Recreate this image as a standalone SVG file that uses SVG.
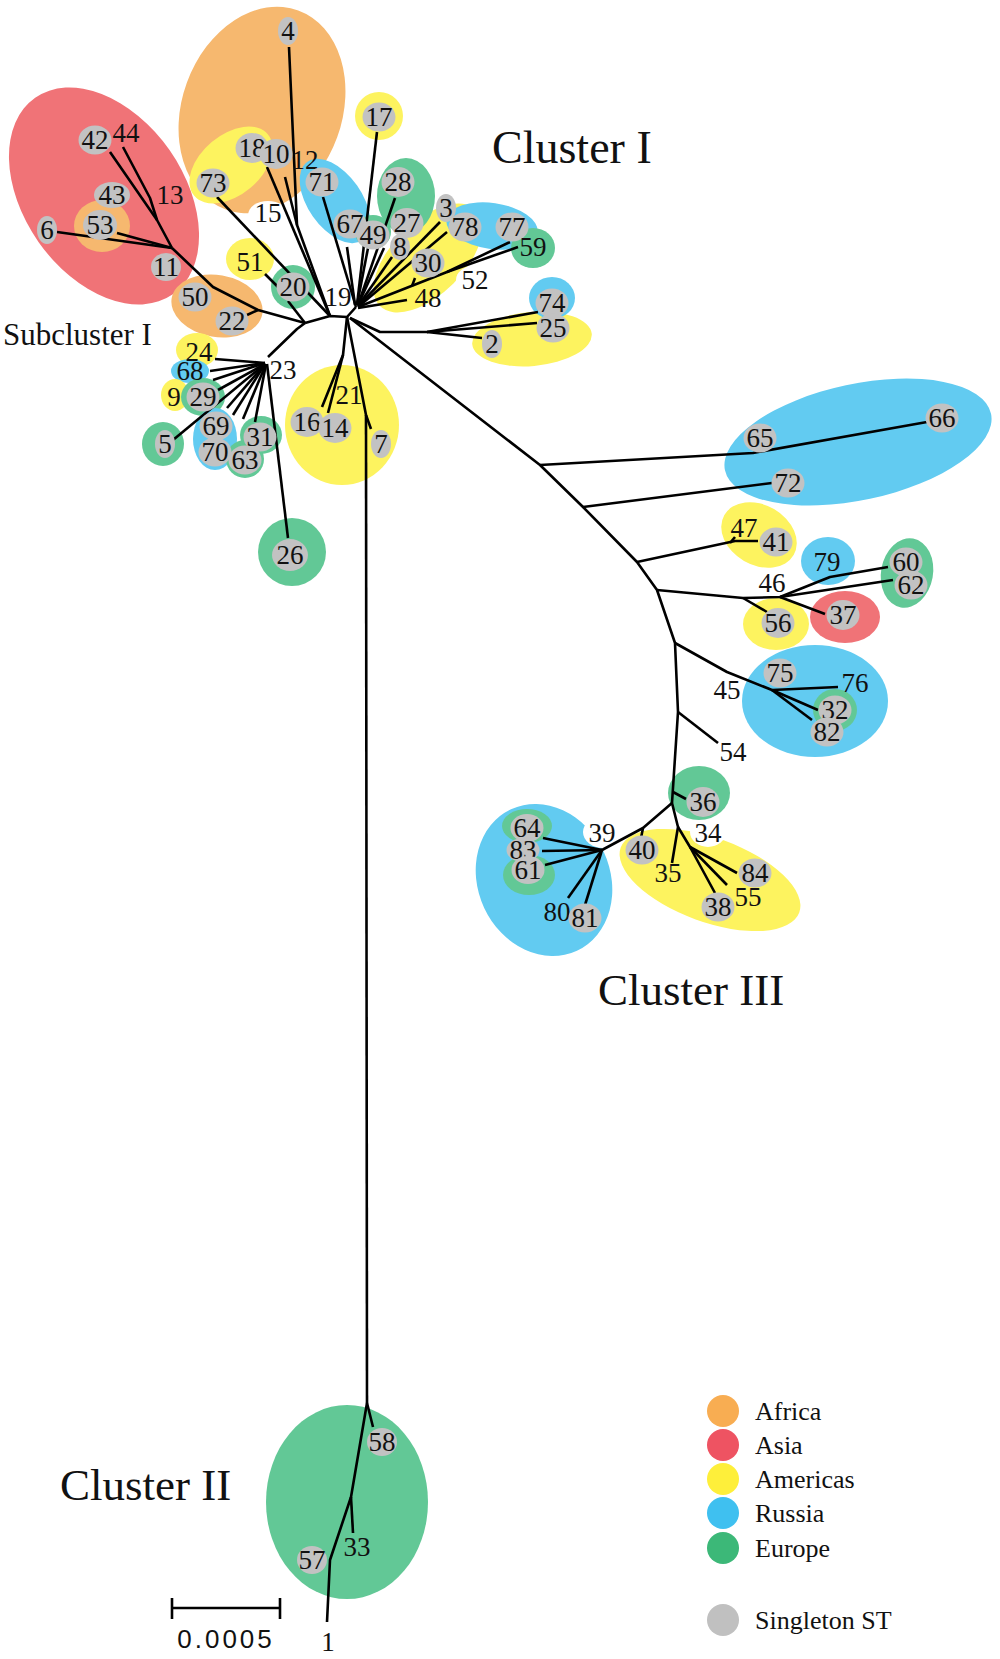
<svg xmlns="http://www.w3.org/2000/svg" width="1000" height="1659" viewBox="0 0 1000 1659">
<style>
.or{fill:#f6b86f}.rd{fill:#f07377}.ye{fill:#fdf35f}.bl{fill:#62cbf1}.gr{fill:#62c896}.wh{fill:#fff}
.g{fill:#c2c2c2}
text{font-family:"Liberation Serif","Times New Roman",serif;fill:#111}
.n{font-size:27px;text-anchor:middle}
.big{font-size:46px}
.lg{font-size:26px}
.e{fill:none;stroke:#000;stroke-width:2.6;stroke-linejoin:round;stroke-linecap:butt}
</style>
<rect width="1000" height="1659" fill="#fff"/>
<g id="regions">
<ellipse class="rd" cx="104" cy="196" rx="120" ry="80" transform="rotate(55 104 196)"/>
<ellipse class="or" cx="102" cy="226" rx="28" ry="26"/>
<ellipse class="or" cx="262" cy="110" rx="80" ry="106" transform="rotate(20 262 110)"/>
<ellipse class="wh" cx="268" cy="215" rx="20" ry="14"/>
<ellipse class="ye" cx="231" cy="165" rx="48" ry="30" transform="rotate(-40 231 165)"/>
<ellipse class="or" cx="217" cy="306" rx="46" ry="31" transform="rotate(10 217 306)"/>
<ellipse class="ye" cx="250" cy="259" rx="24" ry="21"/>
<ellipse class="gr" cx="293" cy="287" rx="22" ry="22"/>
<ellipse class="ye" cx="379" cy="116" rx="24" ry="24"/>
<ellipse class="ye" cx="428" cy="258" rx="68" ry="36" transform="rotate(-45 428 258)"/>
<ellipse class="wh" cx="476" cy="280" rx="20" ry="15"/>
<ellipse class="gr" cx="406" cy="196" rx="29" ry="38"/>
<ellipse class="bl" cx="335" cy="201" rx="48" ry="27" transform="rotate(55 335 201)"/>
<ellipse class="gr" cx="373" cy="232" rx="18" ry="17"/>
<ellipse class="bl" cx="492" cy="226" rx="46" ry="23" transform="rotate(8 492 226)"/>
<ellipse class="gr" cx="533" cy="248" rx="22" ry="20"/>
<ellipse class="ye" cx="532" cy="339" rx="60" ry="27" transform="rotate(-5 532 339)"/>
<ellipse class="bl" cx="552" cy="298" rx="23" ry="21"/>
<ellipse class="ye" cx="197" cy="350" rx="21" ry="17"/>
<ellipse class="bl" cx="190" cy="371" rx="19" ry="12"/>
<ellipse class="ye" cx="175" cy="395" rx="14" ry="16"/>
<ellipse class="gr" cx="203" cy="397" rx="22" ry="19"/>
<ellipse class="gr" cx="163" cy="444" rx="21" ry="22"/>
<ellipse class="bl" cx="215" cy="439" rx="22" ry="31"/>
<ellipse class="gr" cx="245" cy="459" rx="19" ry="19"/>
<ellipse class="gr" cx="261" cy="435" rx="21" ry="19"/>
<ellipse class="gr" cx="292" cy="552" rx="34" ry="34"/>
<ellipse class="ye" cx="342" cy="425" rx="57" ry="60"/>
<ellipse class="bl" cx="858" cy="442" rx="136" ry="58" transform="rotate(-12 858 442)"/>
<ellipse class="ye" cx="759" cy="535" rx="40" ry="30" transform="rotate(30 759 535)"/>
<ellipse class="bl" cx="828" cy="561" rx="27" ry="24"/>
<ellipse class="gr" cx="907" cy="573" rx="26" ry="35" transform="rotate(10 907 573)"/>
<ellipse class="rd" cx="845" cy="617" rx="35" ry="26"/>
<ellipse class="ye" cx="776" cy="624" rx="33" ry="26"/>
<ellipse class="bl" cx="815" cy="701" rx="73" ry="56"/>
<ellipse class="gr" cx="835" cy="710" rx="22" ry="21"/>
<ellipse class="ye" cx="710" cy="880" rx="95" ry="42" transform="rotate(20 710 880)"/>
<ellipse class="wh" cx="708" cy="832" rx="18" ry="15"/>
<ellipse class="gr" cx="699" cy="793" rx="31" ry="27"/>
<ellipse class="bl" cx="544" cy="880" rx="66" ry="78" transform="rotate(-25 544 880)"/>
<ellipse class="wh" cx="603" cy="832" rx="20" ry="16"/>
<ellipse class="gr" cx="527" cy="826" rx="25" ry="17"/>
<ellipse class="gr" cx="529" cy="875" rx="26" ry="20"/>
<ellipse class="gr" cx="347" cy="1502" rx="81" ry="97"/>
</g>
<g id="connectors" class="e">
<path d="M110,152 L157,220 L172,248"/>
<path d="M123,147 L150,198 L157,220"/>
<path d="M57,232 L172,248"/>
<path d="M117,233 L172,248"/>
<path d="M172,248 L213,287 L258,310 L305,323"/>
<path d="M247,315 L258,310"/>
<path d="M289,47 L297,225 L330,316"/>
<path d="M285,177 L297,225"/>
<path d="M267,167 L330,316"/>
<path d="M217,197 L330,316"/>
<path d="M265,274 L278,287"/>
<path d="M288,301 L305,323"/>
<path d="M305,323 L330,316 L347,317 L356,307"/>
<path d="M323,197 L356,307"/>
<path d="M347,247 L355,305"/>
<path d="M377,132 L357,305"/>
<path d="M368,248 L357,305"/>
<path d="M395,198 L358,305"/>
<path d="M384,248 L358,305"/>
<path d="M392,257 L358,306"/>
<path d="M440,222 L358,306"/>
<path d="M447,232 L358,307"/>
<path d="M358,307 L447,272 L510,242"/>
<path d="M447,272 L518,247"/>
<path d="M412,286 L415,278"/>
<path d="M407,300 L358,308"/>
<path d="M347,317 L343,355 L322,407"/>
<path d="M343,355 L328,413"/>
<path d="M347,317 L366,415 L371,429"/>
<path d="M366,415 L367,1403"/>
<path d="M350,318 L380,332 L427,332 L538,312"/>
<path d="M427,332 L537,323"/>
<path d="M427,332 L482,338"/>
<path d="M350,318 L540,465 L583,507 L637,562 L657,590 L675,643 L678,712 L672,803"/>
<path d="M305,323 L297,329 L268,357"/>
<path d="M265,363 L215,359"/>
<path d="M265,363 L210,371"/>
<path d="M265,363 L213,380"/>
<path d="M265,364 L218,390"/>
<path d="M265,364 L173,440"/>
<path d="M265,364 L227,408"/>
<path d="M265,364 L233,415"/>
<path d="M266,364 L243,419"/>
<path d="M266,364 L255,422"/>
<path d="M267,364 L288,538"/>
<path d="M540,465 L753,453 L927,422"/>
<path d="M583,507 L772,483"/>
<path d="M637,562 L735,541 L758,541"/>
<path d="M730,543 L735,537"/>
<path d="M657,590 L743,598 L780,597 L830,577 L888,567"/>
<path d="M780,597 L893,580"/>
<path d="M780,597 L825,614"/>
<path d="M743,598 L767,612"/>
<path d="M675,643 L727,672 L772,690 L838,687"/>
<path d="M772,690 L818,710"/>
<path d="M772,690 L812,720"/>
<path d="M678,712 L718,743"/>
<path d="M673,792 L686,799"/>
<path d="M672,803 L643,828 L602,850"/>
<path d="M643,828 L641,838"/>
<path d="M672,803 L678,827 L672,863"/>
<path d="M678,827 L690,847 L715,893"/>
<path d="M690,847 L727,885"/>
<path d="M690,847 L737,873"/>
<path d="M602,850 L543,838"/>
<path d="M602,850 L542,851"/>
<path d="M602,850 L545,865"/>
<path d="M602,850 L568,898"/>
<path d="M602,850 L585,905"/>
<path d="M367,1403 L373,1427"/>
<path d="M367,1403 L351,1497 L330,1560 L327,1622"/>
<path d="M351,1497 L353,1533"/>
</g>
<g id="nodes">
<g id="n4"><ellipse class="g" cx="288" cy="31" rx="10" ry="14"/><text class="n" x="288" y="40">4</text></g>
<g id="n42"><ellipse class="g" cx="95" cy="140" rx="16.5" ry="14.5"/><text class="n" x="95" y="149">42</text></g>
<g id="n44"><text class="n" x="126" y="142">44</text></g>
<g id="n43"><ellipse class="g" cx="112" cy="195" rx="18" ry="13"/><text class="n" x="112" y="204">43</text></g>
<g id="n53"><ellipse class="g" cx="100" cy="225" rx="17" ry="15"/><text class="n" x="100" y="234">53</text></g>
<g id="n6"><ellipse class="g" cx="47" cy="230" rx="10" ry="14"/><text class="n" x="47" y="239">6</text></g>
<g id="n13"><text class="n" x="170" y="204">13</text></g>
<g id="n11"><ellipse class="g" cx="166" cy="267" rx="15" ry="14"/><text class="n" x="166" y="276">11</text></g>
<g id="n50"><ellipse class="g" cx="195" cy="297" rx="16.5" ry="14.5"/><text class="n" x="195" y="306">50</text></g>
<g id="n22"><ellipse class="g" cx="232" cy="321" rx="16.5" ry="14.5"/><text class="n" x="232" y="330">22</text></g>
<g id="n73"><ellipse class="g" cx="213" cy="183" rx="16.5" ry="14.5"/><text class="n" x="213" y="192">73</text></g>
<g id="n18"><ellipse class="g" cx="252" cy="148" rx="16.5" ry="15"/><text class="n" x="252" y="157">18</text></g>
<g id="n10"><ellipse class="g" cx="276" cy="154" rx="16.5" ry="15"/><text class="n" x="276" y="163">10</text></g>
<g id="n12"><text class="n" x="305" y="169">12</text></g>
<g id="n15"><text class="n" x="268" y="222">15</text></g>
<g id="n51"><text class="n" x="250" y="271">51</text></g>
<g id="n20"><ellipse class="g" cx="293" cy="287" rx="16.5" ry="14.5"/><text class="n" x="293" y="296">20</text></g>
<g id="n19"><text class="n" x="338" y="306">19</text></g>
<g id="n71"><ellipse class="g" cx="322" cy="182" rx="16.5" ry="14.5"/><text class="n" x="322" y="191">71</text></g>
<g id="n67"><ellipse class="g" cx="350" cy="224" rx="16.5" ry="14.5"/><text class="n" x="350" y="233">67</text></g>
<g id="n49"><ellipse class="g" cx="373" cy="235" rx="16.5" ry="14.5"/><text class="n" x="373" y="244">49</text></g>
<g id="n17"><ellipse class="g" cx="379" cy="117" rx="16.5" ry="14.5"/><text class="n" x="379" y="126">17</text></g>
<g id="n28"><ellipse class="g" cx="398" cy="182" rx="16.5" ry="15"/><text class="n" x="398" y="191">28</text></g>
<g id="n27"><ellipse class="g" cx="407" cy="223" rx="16.5" ry="15"/><text class="n" x="407" y="232">27</text></g>
<g id="n8"><ellipse class="g" cx="400" cy="247" rx="10" ry="13"/><text class="n" x="400" y="256">8</text></g>
<g id="n3"><ellipse class="g" cx="446" cy="208" rx="10" ry="14"/><text class="n" x="446" y="217">3</text></g>
<g id="n78"><ellipse class="g" cx="465" cy="227" rx="16.5" ry="14.5"/><text class="n" x="465" y="236">78</text></g>
<g id="n77"><ellipse class="g" cx="512" cy="227" rx="16.5" ry="14.5"/><text class="n" x="512" y="236">77</text></g>
<g id="n59"><text class="n" x="533" y="256">59</text></g>
<g id="n30"><ellipse class="g" cx="428" cy="263" rx="16.5" ry="14.5"/><text class="n" x="428" y="272">30</text></g>
<g id="n52"><text class="n" x="475" y="289">52</text></g>
<g id="n48"><text class="n" x="428" y="307">48</text></g>
<g id="n74"><ellipse class="g" cx="552" cy="303" rx="16.5" ry="14.5"/><text class="n" x="552" y="312">74</text></g>
<g id="n25"><ellipse class="g" cx="553" cy="328" rx="16.5" ry="14.5"/><text class="n" x="553" y="337">25</text></g>
<g id="n2"><ellipse class="g" cx="492" cy="344" rx="10" ry="14"/><text class="n" x="492" y="353">2</text></g>
<g id="n24"><text class="n" x="199" y="361">24</text></g>
<g id="n68"><text class="n" x="190" y="380">68</text></g>
<g id="n9"><text class="n" x="174" y="406">9</text></g>
<g id="n29"><ellipse class="g" cx="203" cy="397" rx="16.5" ry="14.5"/><text class="n" x="203" y="406">29</text></g>
<g id="n23"><text class="n" x="283" y="379">23</text></g>
<g id="n5"><ellipse class="g" cx="165" cy="444" rx="10" ry="14"/><text class="n" x="165" y="453">5</text></g>
<g id="n69"><ellipse class="g" cx="216" cy="426" rx="16.5" ry="14.5"/><text class="n" x="216" y="435">69</text></g>
<g id="n70"><ellipse class="g" cx="215" cy="452" rx="16.5" ry="14.5"/><text class="n" x="215" y="461">70</text></g>
<g id="n63"><ellipse class="g" cx="245" cy="460" rx="16.5" ry="14.5"/><text class="n" x="245" y="469">63</text></g>
<g id="n31"><ellipse class="g" cx="260" cy="437" rx="16.5" ry="14.5"/><text class="n" x="260" y="446">31</text></g>
<g id="n26"><ellipse class="g" cx="290" cy="555" rx="18" ry="16"/><text class="n" x="290" y="564">26</text></g>
<g id="n21"><text class="n" x="349" y="404">21</text></g>
<g id="n16"><ellipse class="g" cx="307" cy="422" rx="16.5" ry="15"/><text class="n" x="307" y="431">16</text></g>
<g id="n14"><ellipse class="g" cx="335" cy="428" rx="16.5" ry="15"/><text class="n" x="335" y="437">14</text></g>
<g id="n7"><ellipse class="g" cx="381" cy="444" rx="10" ry="14"/><text class="n" x="381" y="453">7</text></g>
<g id="n65"><ellipse class="g" cx="760" cy="438" rx="16.5" ry="14.5"/><text class="n" x="760" y="447">65</text></g>
<g id="n66"><ellipse class="g" cx="942" cy="418" rx="16.5" ry="14.5"/><text class="n" x="942" y="427">66</text></g>
<g id="n72"><ellipse class="g" cx="788" cy="483" rx="16.5" ry="14.5"/><text class="n" x="788" y="492">72</text></g>
<g id="n47"><text class="n" x="744" y="537">47</text></g>
<g id="n41"><ellipse class="g" cx="776" cy="542" rx="16.5" ry="14.5"/><text class="n" x="776" y="551">41</text></g>
<g id="n79"><text class="n" x="827" y="571">79</text></g>
<g id="n46"><text class="n" x="772" y="592">46</text></g>
<g id="n60"><ellipse class="g" cx="906" cy="562" rx="16.5" ry="14.5"/><text class="n" x="906" y="571">60</text></g>
<g id="n62"><ellipse class="g" cx="911" cy="585" rx="16.5" ry="14.5"/><text class="n" x="911" y="594">62</text></g>
<g id="n37"><ellipse class="g" cx="843" cy="615" rx="16.5" ry="15"/><text class="n" x="843" y="624">37</text></g>
<g id="n56"><ellipse class="g" cx="778" cy="623" rx="16.5" ry="15"/><text class="n" x="778" y="632">56</text></g>
<g id="n75"><ellipse class="g" cx="780" cy="673" rx="16.5" ry="14.5"/><text class="n" x="780" y="682">75</text></g>
<g id="n76"><text class="n" x="855" y="692">76</text></g>
<g id="n45"><text class="n" x="727" y="699">45</text></g>
<g id="n32"><ellipse class="g" cx="835" cy="710" rx="16.5" ry="14.5"/><text class="n" x="835" y="719">32</text></g>
<g id="n82"><ellipse class="g" cx="827" cy="732" rx="16.5" ry="14.5"/><text class="n" x="827" y="741">82</text></g>
<g id="n54"><text class="n" x="733" y="761">54</text></g>
<g id="n36"><ellipse class="g" cx="703" cy="802" rx="16.5" ry="15"/><text class="n" x="703" y="811">36</text></g>
<g id="n34"><text class="n" x="708" y="842">34</text></g>
<g id="n40"><ellipse class="g" cx="642" cy="850" rx="16.5" ry="14.5"/><text class="n" x="642" y="859">40</text></g>
<g id="n35"><text class="n" x="668" y="882">35</text></g>
<g id="n84"><ellipse class="g" cx="755" cy="873" rx="16.5" ry="14.5"/><text class="n" x="755" y="882">84</text></g>
<g id="n55"><text class="n" x="748" y="906">55</text></g>
<g id="n38"><ellipse class="g" cx="718" cy="907" rx="16.5" ry="14.5"/><text class="n" x="718" y="916">38</text></g>
<g id="n39"><text class="n" x="602" y="842">39</text></g>
<g id="n64"><ellipse class="g" cx="527" cy="828" rx="16.5" ry="14"/><text class="n" x="527" y="837">64</text></g>
<g id="n83"><ellipse class="g" cx="523" cy="850" rx="16.5" ry="12"/><text class="n" x="523" y="859">83</text></g>
<g id="n61"><ellipse class="g" cx="528" cy="870" rx="16.5" ry="14"/><text class="n" x="528" y="879">61</text></g>
<g id="n80"><text class="n" x="557" y="921">80</text></g>
<g id="n81"><ellipse class="g" cx="585" cy="918" rx="16.5" ry="14.5"/><text class="n" x="585" y="927">81</text></g>
<g id="n58"><ellipse class="g" cx="382" cy="1442" rx="15" ry="14"/><text class="n" x="382" y="1451">58</text></g>
<g id="n33"><text class="n" x="357" y="1556">33</text></g>
<g id="n57"><ellipse class="g" cx="312" cy="1560" rx="15" ry="14"/><text class="n" x="312" y="1569">57</text></g>
<g id="n1"><text class="n" x="328" y="1651">1</text></g>
</g>
<g id="titles">
<text class="big" x="492" y="163">Cluster I</text>
<text class="big" x="598" y="1005" style="font-size:45px">Cluster III</text>
<text class="big" x="60" y="1500" style="font-size:45px">Cluster II</text>
<text x="3" y="345" style="font-size:31px">Subcluster I</text>
</g>
<g id="scalebar">
<path d="M172,1608 H280 M172,1598 V1619 M280,1598 V1619" fill="none" stroke="#000" stroke-width="2.6"/>
<text x="226" y="1648" style="font-family:'Liberation Sans',Arial,sans-serif;font-size:26px;letter-spacing:3px;text-anchor:middle">0.0005</text>
</g>
<g id="legend">
<circle cx="723" cy="1411" r="16" fill="#f8ad52"/><text class="lg" x="755" y="1420">Africa</text>
<circle cx="723" cy="1445" r="16" fill="#ee5362"/><text class="lg" x="755" y="1454">Asia</text>
<circle cx="723" cy="1479" r="16" fill="#feef3a"/><text class="lg" x="755" y="1488">Americas</text>
<circle cx="723" cy="1513" r="16" fill="#3fc0f0"/><text class="lg" x="755" y="1522">Russia</text>
<circle cx="723" cy="1548" r="16" fill="#3cb878"/><text class="lg" x="755" y="1557">Europe</text>
<circle cx="723" cy="1620" r="16" fill="#c0c0c0"/><text class="lg" x="755" y="1629">Singleton ST</text>
</g>
</svg>
